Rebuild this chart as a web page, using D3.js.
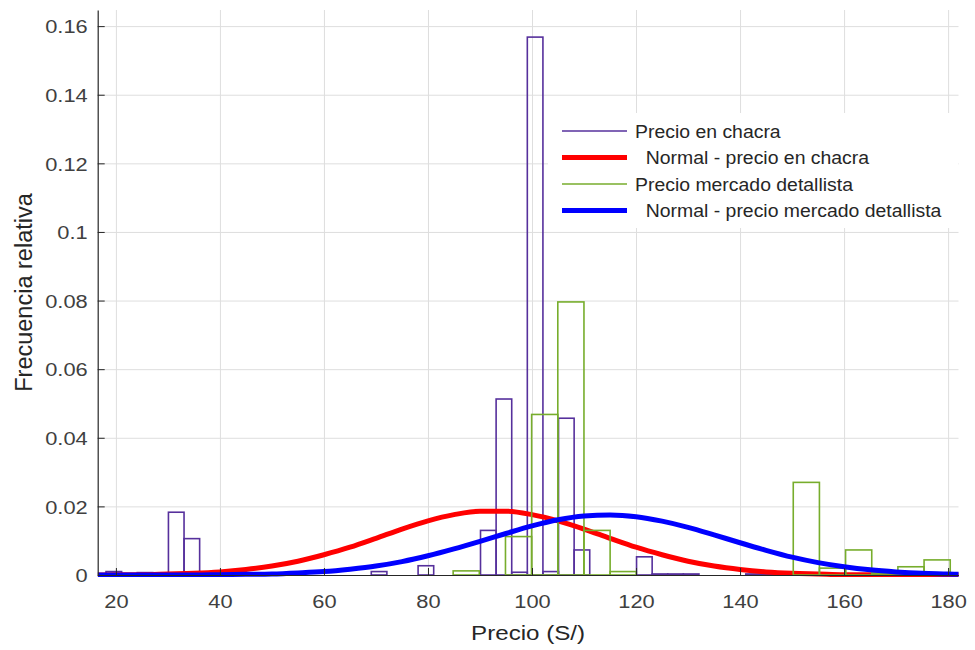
<!DOCTYPE html>
<html>
<head>
<meta charset="utf-8">
<script src="https://cdn.jsdelivr.net/npm/d3@7/dist/d3.min.js"></script>
<style>
  html, body { margin: 0; padding: 0; background: #ffffff; }
  svg { display: block; }
  text { font-family: "Liberation Sans", Arial, Helvetica, sans-serif; }
</style>
</head>
<body>
<script>
// ---- Histogram: precio en chacra (bin start, bin width, relative frequency per bin)
const chacraBinStart = 18.1;
const chacraBinWidth = 3.0;
const chacraFreq = [
  0.0010, 0, 0.0007, 0, 0.0183, 0.0106, 0, 0, 0, 0,
  0, 0, 0, 0, 0, 0, 0, 0.0010, 0, 0,
  0.0027, 0, 0, 0, 0.0130, 0.0513, 0.0008, 0.1568, 0.0010, 0.0457,
  0.0073, 0, 0, 0, 0.0053, 0.0003, 0.0003, 0.0003, 0, 0,
  0, 0.0003, 0.0003
];

// ---- Histogram: precio mercado detallista
const detallistaBinStart = 54.66;
const detallistaBinWidth = 5.03;
const detallistaFreq = [
  0, 0, 0, 0, 0, 0, 0.0012, 0, 0.0112, 0.0468,
  0.0796, 0.0130, 0.0010, 0, 0, 0, 0, 0, 0, 0.0270,
  0.0020, 0.0073, 0.0005, 0.0024, 0.0044
];

// ---- Fitted normal curves, sampled along the price axis
const curvePrice = [16.5, 20, 25, 30, 35, 40, 45, 50, 55, 60, 65, 70, 75, 80, 85, 90, 95,
  100, 105, 110, 115, 120, 125, 130, 135, 140, 145, 150, 155, 160, 165, 170, 175, 180, 182];
const normalChacra = [0.0000, 0.0001, 0.0001, 0.0003, 0.0005, 0.0009, 0.0016, 0.0026, 0.0040,
  0.0059, 0.0081, 0.0107, 0.0134, 0.0158, 0.0176, 0.0186, 0.0186, 0.0176, 0.0158, 0.0134,
  0.0107, 0.0081, 0.0059, 0.0040, 0.0026, 0.0016, 0.0009, 0.0005, 0.0003, 0.0001, 0.0001,
  0.0000, 0.0000, 0.0000, 0.0000];
const normalDetallista = [0, 0, 0, 0, 0, 0.0001, 0.0002, 0.0003, 0.0006, 0.0010, 0.0017,
  0.0026, 0.0039, 0.0056, 0.0076, 0.0098, 0.0121, 0.0143, 0.0161, 0.0172, 0.0175, 0.0170,
  0.0157, 0.0139, 0.0117, 0.0094, 0.0072, 0.0052, 0.0036, 0.0024, 0.0015, 0.0009, 0.0005,
  0.0003, 0.0002];

// ---- Axis ticks
const xTicks = [20, 40, 60, 80, 100, 120, 140, 160, 180];
const xTickLabels = ["20", "40", "60", "80", "100", "120", "140", "160", "180"];
const yTicks = [0, 0.02, 0.04, 0.06, 0.08, 0.1, 0.12, 0.14, 0.16];
const yTickLabels = ["0", "0.02", "0.04", "0.06", "0.08", "0.1", "0.12", "0.14", "0.16"];

// ---- Legend entries
const legendLabels = ["Precio en chacra", "  Normal - precio en chacra",
  "Precio mercado detallista", "  Normal - precio mercado detallista"];

// ---------------------------------------------------------------
const W = 975, H = 650;
const plot = { left: 97.7, right: 958.5, top: 10, bottom: 575 };
const COLORS = { chacra: "#56309c", normChacra: "#ff0000", detal: "#77ad2c", normDetal: "#0000ff" };
const TEXT = "#262626";

const svg = d3.select("body").append("svg")
  .attr("width", W).attr("height", H)
  .attr("viewBox", `0 0 ${W} ${H}`);
svg.append("rect").attr("width", W).attr("height", H).attr("fill", "#fff");

const x = d3.scaleLinear().domain([16.5, 182]).range([plot.left, plot.right]);
const y = d3.scaleLinear().domain([0, 0.1647]).range([plot.bottom, plot.top]);

svg.append("defs").append("clipPath").attr("id", "plotClip")
  .append("rect")
  .attr("x", plot.left).attr("y", plot.top - 2)
  .attr("width", plot.right - plot.left + 2)
  .attr("height", plot.bottom - plot.top + 4);

// Grid
const gridY = svg.append("g")
  .attr("transform", `translate(${plot.left},0)`)
  .call(d3.axisLeft(y).tickValues(yTicks).tickSize(-(plot.right - plot.left)).tickFormat(""));
const gridX = svg.append("g")
  .attr("transform", `translate(0,${plot.bottom})`)
  .call(d3.axisBottom(x).tickValues(xTicks).tickSize(-(plot.bottom - plot.top)).tickFormat(""));
[gridY, gridX].forEach(g => {
  g.select(".domain").remove();
  g.selectAll("line").attr("stroke", "#dedede").attr("stroke-width", 1);
});

const layer = svg.append("g").attr("clip-path", "url(#plotClip)");

// Histogram outlines
function drawHistogram(start, width, freq, color) {
  const bins = freq.map((f, i) => ({ x0: start + i * width, x1: start + (i + 1) * width, f }));
  layer.append("g").selectAll("rect").data(bins).join("rect")
    .attr("x", d => x(d.x0))
    .attr("y", d => y(d.f))
    .attr("width", d => x(d.x1) - x(d.x0))
    .attr("height", d => y(0) - y(d.f))
    .attr("fill", "none")
    .attr("stroke", color)
    .attr("stroke-width", 1.6);
}

const line = d3.line()
  .x(d => x(d[0]))
  .y(d => y(d[1]))
  .curve(d3.curveMonotoneX);

function drawCurve(values, color) {
  layer.append("path")
    .datum(curvePrice.map((p, i) => [p, values[i]]))
    .attr("d", line)
    .attr("fill", "none")
    .attr("stroke", color)
    .attr("stroke-width", 5)
    .attr("stroke-linejoin", "round");
}

drawHistogram(chacraBinStart, chacraBinWidth, chacraFreq, COLORS.chacra);
drawCurve(normalChacra, COLORS.normChacra);
drawHistogram(detallistaBinStart, detallistaBinWidth, detallistaFreq, COLORS.detal);
drawCurve(normalDetallista, COLORS.normDetal);

// Axes
const axisY = svg.append("g")
  .attr("transform", `translate(${plot.left},0)`)
  .call(d3.axisLeft(y).tickValues(yTicks).tickSizeInner(-7).tickSizeOuter(0)
    .tickFormat((d, i) => yTickLabels[i]));
const axisX = svg.append("g")
  .attr("transform", `translate(0,${plot.bottom})`)
  .call(d3.axisBottom(x).tickValues(xTicks).tickSizeInner(-7).tickSizeOuter(0)
    .tickFormat((d, i) => xTickLabels[i]));

[axisY, axisX].forEach(g => {
  g.select(".domain").attr("stroke", TEXT).attr("stroke-width", 1.2);
  g.selectAll(".tick line").attr("stroke", TEXT).attr("stroke-width", 1);
  g.selectAll("text")
    .attr("fill", "#404040")
    .attr("font-size", 18.5)
    .attr("font-family", "'Liberation Sans', Arial, sans-serif");
});
axisY.selectAll("text")
  .attr("x", 0).attr("dy", "0.36em")
  .attr("text-anchor", "end")
  .attr("transform", "translate(-10,0) scale(1.18,1)");
axisX.selectAll("text")
  .attr("y", 0).attr("dy", 0)
  .attr("text-anchor", "middle")
  .attr("transform", "translate(0,32.5) scale(1.18,1)");

// Axis titles
svg.append("text")
  .attr("transform", `translate(${(plot.left + plot.right) / 2},640) scale(1.15,1)`)
  .attr("text-anchor", "middle")
  .attr("font-size", 21)
  .attr("fill", TEXT)
  .text("Precio (S/)");

svg.append("text")
  .attr("transform", `translate(32,${(plot.top + plot.bottom) / 2}) rotate(-90)`)
  .attr("text-anchor", "middle")
  .attr("font-size", 23.5)
  .attr("fill", TEXT)
  .text("Frecuencia relativa");

// Legend
const legend = svg.append("g");
legend.append("rect")
  .attr("x", 548).attr("y", 113)
  .attr("width", 410).attr("height", 115)
  .attr("fill", "#fff");
const legendColors = [COLORS.chacra, COLORS.normChacra, COLORS.detal, COLORS.normDetal];
const legendWidths = [1.6, 5, 1.6, 5];
const rowY = d3.scalePoint().domain(d3.range(legendLabels.length)).range([131, 210.5]);
const rows = legend.selectAll("g.row").data(legendLabels).join("g")
  .attr("class", "row")
  .attr("transform", (d, i) => `translate(0,${rowY(i)})`);
rows.append("line")
  .attr("x1", 562).attr("x2", 627)
  .attr("stroke", (d, i) => legendColors[i])
  .attr("stroke-width", (d, i) => legendWidths[i]);
rows.append("text")
  .attr("transform", "translate(635,6.6) scale(1.05,1)")
  .attr("font-size", 18.5)
  .attr("fill", TEXT)
  .style("white-space", "pre")
  .text(d => d);
</script>
</body>
</html>
